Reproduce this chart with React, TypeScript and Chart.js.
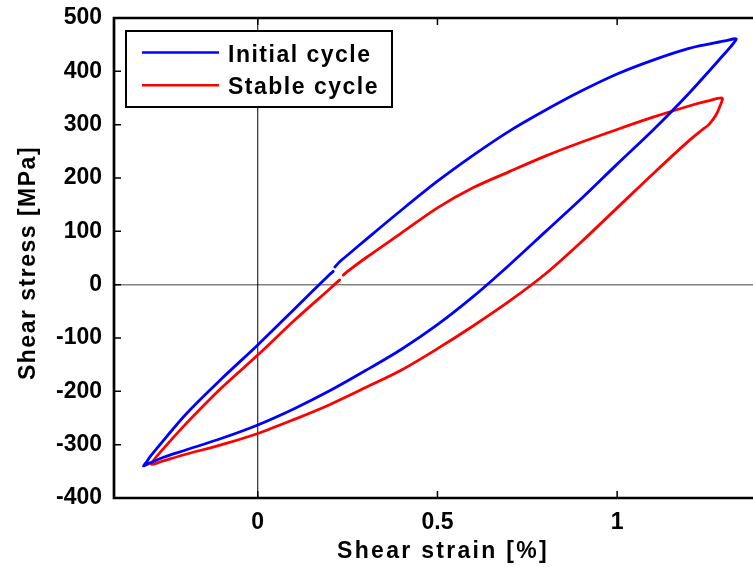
import React, { useEffect, useRef } from 'react';
import { Chart, registerables } from 'chart.js';

Chart.register(...registerables);

// Hysteresis loop of the first loading cycle (strain in %, stress in MPa):
// loading up to the peak, unloading to the trough, reloading back.
const initialStrain = [
  0.2145, 0.228, 0.256, 0.3, 0.4, 0.5, 0.6, 0.7, 0.8, 0.9, 1.0, 1.1, 1.2, 1.3, 1.331,
  1.324, 1.3, 1.2, 1.1, 1.0, 0.9, 0.8, 0.7, 0.6, 0.5, 0.4, 0.3, 0.2, 0.1, 0.0, -0.1, -0.2, -0.264, -0.305, -0.318,
  -0.31, -0.3, -0.2, -0.1, 0.0, 0.1, 0.2, 0.21,
];
const initialStress = [
  33, 43, 59, 84, 140, 194, 243, 288, 327, 363, 395, 421, 443, 457, 461,
  453, 434, 359, 290, 226, 161, 99, 37, -22, -75, -121, -161, -199, -233, -263, -288, -310, -324, -336, -340,
  -333, -323, -243, -176, -113, -47, 19, 25,
];

// Hysteresis loop once the response has stabilised
const stableStrain = [
  0.238, 0.25, 0.3, 0.4, 0.5, 0.6, 0.7, 0.8, 0.9, 1.0, 1.1, 1.2, 1.25, 1.292,
  1.288, 1.275, 1.255, 1.236, 1.2, 1.1, 1.0, 0.9, 0.8, 0.7, 0.6, 0.5, 0.4, 0.3, 0.2, 0.1, 0.0, -0.1, -0.2, -0.27, -0.296,
  -0.285, -0.25, -0.2, -0.1, 0.0, 0.1, 0.2, 0.228,
];
const stableStress = [
  18, 25, 50, 97, 144, 182, 212, 241, 267, 291, 314, 335, 344, 350,
  338, 318, 300, 290, 270, 208, 144, 80, 20, -31, -77, -120, -160, -193, -225, -253, -279, -300, -318, -332, -337,
  -325, -298, -261, -193, -132, -68, -8, 9,
];

const seriesNames = ['Initial cycle', 'Stable cycle'];
const seriesColors = ['#0000ff', '#ff0000'];

// visible strain window; the axes box continues past the right edge
const strainRange = [-0.4, 1.378];
const stressRange = [-400, 500];
const strainTicks = [0, 0.5, 1];
const stressTicks = [-400, -300, -200, -100, 0, 100, 200, 300, 400, 500];

const xTitle = 'Shear strain [%]';
const yTitle = 'Shear stress [MPa]';

const FONT = '"Liberation Sans", Arial, Helvetica, sans-serif';

const toPoints = (xs: number[], ys: number[]) => xs.map((x, i) => ({ x, y: ys[i] }));

const boxPlugin = {
  id: 'boxFrame',
  beforeDatasetsDraw(chart: any) {
    const { ctx, chartArea: a, scales } = chart;
    const x0 = scales.x.getPixelForValue(0);
    const y0 = scales.y.getPixelForValue(0);
    ctx.save();
    ctx.strokeStyle = '#808080';
    ctx.lineWidth = 1.5;
    ctx.beginPath();
    ctx.moveTo(a.left, y0);
    ctx.lineTo(a.right, y0);
    ctx.stroke();
    ctx.strokeStyle = '#000';
    ctx.lineWidth = 1;
    ctx.beginPath();
    ctx.moveTo(x0, a.top);
    ctx.lineTo(x0, a.bottom);
    ctx.stroke();
    ctx.restore();
  },
  afterDatasetsDraw(chart: any) {
    const { ctx, chartArea: a, scales } = chart;
    ctx.save();
    // inward tick marks
    ctx.strokeStyle = '#000';
    ctx.lineWidth = 1.5;
    const tl = 7;
    ctx.beginPath();
    for (const v of strainTicks) {
      const px = scales.x.getPixelForValue(v);
      ctx.moveTo(px, a.bottom);
      ctx.lineTo(px, a.bottom - tl);
      ctx.moveTo(px, a.top);
      ctx.lineTo(px, a.top + tl);
    }
    for (const v of stressTicks) {
      const py = scales.y.getPixelForValue(v);
      ctx.moveTo(a.left, py);
      ctx.lineTo(a.left + tl, py);
    }
    ctx.stroke();

    // axes box: top, left and bottom sides
    ctx.lineWidth = 2.7;
    ctx.beginPath();
    ctx.moveTo(a.right + 5, a.top);
    ctx.lineTo(a.left, a.top);
    ctx.lineTo(a.left, a.bottom);
    ctx.lineTo(a.right + 5, a.bottom);
    ctx.stroke();

    // legend
    const lx = 126;
    const ly = 31;
    ctx.fillStyle = '#fff';
    ctx.fillRect(lx, ly, 266, 76);
    ctx.lineWidth = 2;
    ctx.strokeStyle = '#000';
    ctx.strokeRect(lx, ly, 266, 76);
    ctx.font = `bold 23px ${FONT}`;
    (ctx as any).letterSpacing = '1.5px';
    ctx.textAlign = 'left';
    ctx.textBaseline = 'alphabetic';
    seriesNames.forEach((name, i) => {
      const yy = 52.5 + i * 32.7;
      ctx.strokeStyle = seriesColors[i];
      ctx.lineWidth = 2.5;
      ctx.beginPath();
      ctx.moveTo(142, yy);
      ctx.lineTo(219, yy);
      ctx.stroke();
      ctx.fillStyle = '#000';
      ctx.fillText(name, 228, yy + 9.2);
    });

    // axis titles
    ctx.textAlign = 'center';
    (ctx as any).letterSpacing = '2.3px';
    ctx.fillText(xTitle, 443, 558);
    (ctx as any).letterSpacing = '1.5px';
    ctx.translate(35, 263);
    ctx.rotate(-Math.PI / 2);
    ctx.fillText(yTitle, 0, 0);
    ctx.restore();
  },
};

export default function App() {
  const canvasRef = useRef<HTMLCanvasElement | null>(null);

  useEffect(() => {
    if (!canvasRef.current) return;
    const tickFont = { family: FONT, size: 23, weight: 'bold' as const };
    const chart = new Chart(canvasRef.current, {
      type: 'scatter',
      data: {
        datasets: [
          {
            label: seriesNames[0],
            data: toPoints(initialStrain, initialStress),
            borderColor: seriesColors[0],
            backgroundColor: seriesColors[0],
          },
          {
            label: seriesNames[1],
            data: toPoints(stableStrain, stableStress),
            borderColor: seriesColors[1],
            backgroundColor: seriesColors[1],
          },
        ].map((d) => ({
          ...d,
          showLine: true,
          pointRadius: 0,
          borderWidth: 2.8,
          tension: 0.3,
          borderJoinStyle: 'round' as const,
          borderCapStyle: 'round' as const,
        })),
      },
      options: {
        animation: false,
        responsive: false,
        layout: { padding: { left: 0, top: 18, right: 0, bottom: 0 } },
        plugins: { legend: { display: false }, tooltip: { enabled: false } },
        scales: {
          x: {
            type: 'linear',
            min: strainRange[0],
            max: strainRange[1],
            grid: { display: false, drawTicks: false },
            border: { display: false },
            afterBuildTicks: (s: any) => {
              s.ticks = strainTicks.map((value) => ({ value }));
            },
            afterFit: (s: any) => {
              s.height = 69;
              s.paddingLeft = 0;
              s.paddingRight = 0;
              s.paddingTop = 0;
              s.paddingBottom = 0;
            },
            ticks: {
              font: tickFont,
              color: '#000',
              padding: 11,
              maxRotation: 0,
              callback: (v: any) => String(v),
            },
          },
          y: {
            type: 'linear',
            min: stressRange[0],
            max: stressRange[1],
            grid: { display: false, drawTicks: false },
            border: { display: false },
            afterBuildTicks: (s: any) => {
              s.ticks = stressTicks.map((value) => ({ value }));
            },
            afterFit: (s: any) => {
              s.width = 114;
              s.paddingLeft = 0;
              s.paddingRight = 0;
              s.paddingTop = 0;
              s.paddingBottom = 0;
            },
            ticks: {
              font: tickFont,
              color: '#000',
              padding: 12,
              callback: (v: any) => String(v),
            },
          },
        },
      },
      plugins: [boxPlugin],
    });
    return () => chart.destroy();
  }, []);

  return (
    <div
      style={{
        position: 'fixed',
        left: 0,
        top: 0,
        width: 753,
        height: 567,
        overflow: 'hidden',
        background: '#fff',
      }}
    >
      <canvas ref={canvasRef} width={753} height={567} style={{ display: 'block', width: 753, height: 567 }} />
    </div>
  );
}
